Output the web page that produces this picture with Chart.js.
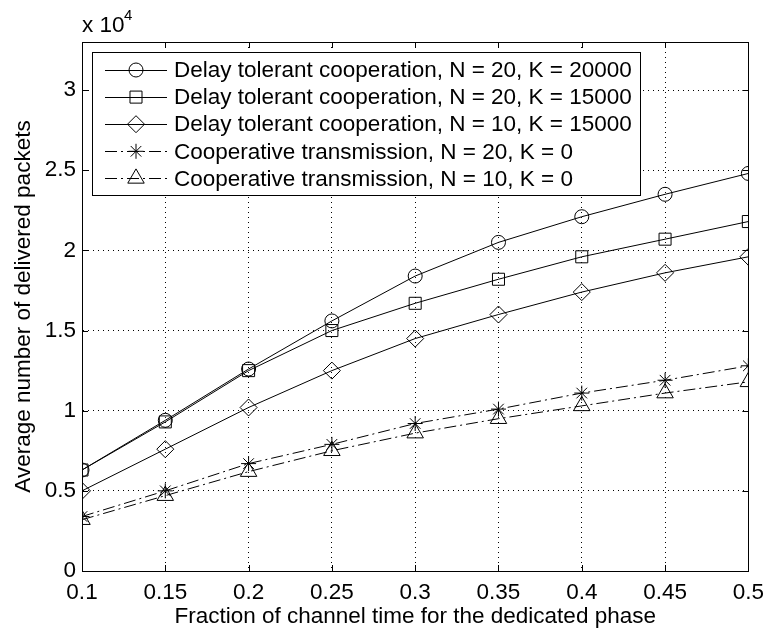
<!DOCTYPE html>
<html>
<head>
<meta charset="utf-8">
<script src="https://cdn.jsdelivr.net/npm/chart.js@4/dist/chart.umd.min.js"></script>
<style>
  html, body { margin: 0; padding: 0; background: #fff; }
  #wrap { width: 772px; height: 635px; position: relative; }
</style>
</head>
<body>
<div id="wrap"><canvas id="deliveryChart"></canvas></div>
<script>
// data (y values in packets, axis shown in x 10^4)
const fractions = [0.1, 0.15, 0.2, 0.25, 0.3, 0.35, 0.4, 0.45, 0.5];
const dtcN20K20000 = [6300, 9400, 12600, 15600, 18400, 20500, 22100, 23500, 24800];
const dtcN20K15000 = [6300, 9300, 12500, 15000, 16700, 18200, 19600, 20700, 21800];
const dtcN10K15000 = [5000, 7600, 10200, 12500, 14500, 16000, 17400, 18600, 19600];
const coopN20K0 = [3400, 5000, 6700, 7900, 9200, 10100, 11100, 11900, 12800];
const coopN10K0 = [3200, 4700, 6200, 7500, 8600, 9500, 10300, 11100, 11800];

const seriesLabels = [
  'Delay tolerant cooperation, N = 20, K = 20000',
  'Delay tolerant cooperation, N = 20, K = 15000',
  'Delay tolerant cooperation, N = 10, K = 15000',
  'Cooperative transmission, N = 20, K = 0',
  'Cooperative transmission, N = 10, K = 0'
];
const xTicks = [0.1, 0.15, 0.2, 0.25, 0.3, 0.35, 0.4, 0.45, 0.5];
const xTickLabels = ['0.1', '0.15', '0.2', '0.25', '0.3', '0.35', '0.4', '0.45', '0.5'];
const yTicks = [0, 5000, 10000, 15000, 20000, 25000, 30000];
const yTickLabels = ['0', '0.5', '1', '1.5', '2', '2.5', '3'];

const FONT = 'Liberation Sans, Arial, Helvetica, sans-serif';
const FSIZE = 22.5;
const dashDot = [12, 4, 2, 4];

function toPoints(ys) {
  return fractions.map((x, i) => ({ x: x, y: ys[i] }));
}

function series(label, ys, style, radius, dash) {
  return {
    label: label,
    data: toPoints(ys),
    borderColor: '#000',
    borderWidth: 1,
    borderDash: dash || [],
    pointStyle: style,
    pointRadius: radius,
    pointHoverRadius: radius,
    pointBorderColor: '#000',
    pointBackgroundColor: 'rgba(0,0,0,0)',
    pointBorderWidth: 1,
    fill: false,
    tension: 0
  };
}

const datasets = [
  series(seriesLabels[0], dtcN20K20000, 'circle', 7),
  series(seriesLabels[1], dtcN20K15000, 'rect', 8.5),
  series(seriesLabels[2], dtcN10K15000, 'rectRot', 8.5),
  series(seriesLabels[3], coopN20K0, 'star', 7.5, dashDot),
  series(seriesLabels[4], coopN10K0, 'triangle', 9.5, dashDot)
];

// box, inward ticks, the "x 10^4" factor and the matlab-ish legend
const matlabDecor = {
  id: 'matlabDecor',
  afterDraw(chart) {
    const c = chart.ctx;
    const a = chart.chartArea;
    const xs = chart.scales.x;
    const ys = chart.scales.y;
    c.save();
    c.strokeStyle = '#000';
    c.lineWidth = 1;
    c.setLineDash([]);

    // tick marks on all four sides
    c.beginPath();
    xTicks.forEach(v => {
      const px = Math.round(xs.getPixelForValue(v)) + 0.5;
      c.moveTo(px, a.bottom); c.lineTo(px, a.bottom - 6);
      c.moveTo(px, a.top); c.lineTo(px, a.top + 6);
    });
    yTicks.forEach(v => {
      const py = Math.round(ys.getPixelForValue(v)) + 0.5;
      c.moveTo(a.left, py); c.lineTo(a.left + 6, py);
      c.moveTo(a.right, py); c.lineTo(a.right - 6, py);
    });
    c.stroke();
    c.strokeRect(Math.round(a.left) + 0.5, Math.round(a.top) + 0.5,
      Math.round(a.right - a.left), Math.round(a.bottom - a.top));

    // exponent label
    c.fillStyle = '#000';
    c.textBaseline = 'alphabetic';
    c.textAlign = 'left';
    c.font = FSIZE + 'px ' + FONT;
    c.fillText('x 10', 82, 32);
    c.font = '15px ' + FONT;
    c.fillText('4', 124, 20);

    // legend
    const lx = 92, ly = 52, lw = 548, lh = 143;
    c.fillStyle = '#fff';
    c.fillRect(lx, ly, lw, lh);
    c.strokeRect(lx + 0.5, ly + 0.5, lw, lh);
    chart.data.datasets.forEach((ds, i) => {
      const cy = 70 + i * 27.1;
      c.save();
      c.setLineDash(ds.borderDash);
      c.beginPath();
      c.moveTo(105, Math.round(cy) + 0.5);
      c.lineTo(167, Math.round(cy) + 0.5);
      c.stroke();
      c.restore();
      c.fillStyle = 'rgba(0,0,0,0)';
      c.strokeStyle = '#000';
      Chart.helpers.drawPoint(c, {
        pointStyle: ds.pointStyle, radius: ds.pointRadius, rotation: 0, borderWidth: 1
      }, 136, cy);
      c.fillStyle = '#000';
      c.font = FSIZE + 'px ' + FONT;
      c.textBaseline = 'middle';
      c.fillText(ds.label, 174, cy + 1);
    });
    c.restore();
  }
};

new Chart(document.getElementById('deliveryChart').getContext('2d'), {
  type: 'line',
  data: { datasets: datasets },
  options: {
    responsive: true,
    maintainAspectRatio: false,
    animation: false,
    events: [],
    layout: { padding: { left: 0, right: 19, top: 42, bottom: 0 } },
    plugins: {
      legend: { display: false },
      tooltip: { enabled: false }
    },
    scales: {
      x: {
        type: 'linear',
        min: 0.1,
        max: 0.5,
        afterFit(scale) { scale.height = 64; },
        afterBuildTicks(scale) { scale.ticks = xTicks.map(v => ({ value: v })); },
        ticks: {
          color: '#000',
          font: { family: FONT, size: FSIZE },
          padding: 8,
          maxRotation: 0,
          autoSkip: false,
          callback: (v, i) => xTickLabels[i]
        },
        grid: { color: '#000', lineWidth: 1, drawTicks: false },
        border: { display: true, color: '#000', dash: [1, 4] },
        title: {
          display: true,
          text: 'Fraction of channel time for the dedicated phase',
          color: '#000',
          font: { family: FONT, size: FSIZE },
          padding: 5
        }
      },
      y: {
        type: 'linear',
        min: 0,
        max: 33000,
        afterFit(scale) { scale.width = 82; },
        afterBuildTicks(scale) { scale.ticks = yTicks.map(v => ({ value: v })); },
        ticks: {
          color: '#000',
          font: { family: FONT, size: FSIZE },
          padding: 6,
          autoSkip: false,
          callback: (v, i) => yTickLabels[i]
        },
        grid: { color: '#000', lineWidth: 1, drawTicks: false },
        border: { display: true, color: '#000', dash: [1, 4] },
        title: {
          display: true,
          text: 'Average number of delivered packets',
          color: '#000',
          font: { family: FONT, size: FSIZE },
          padding: 10
        }
      }
    }
  },
  plugins: [matlabDecor]
});
</script>
</body>
</html>
